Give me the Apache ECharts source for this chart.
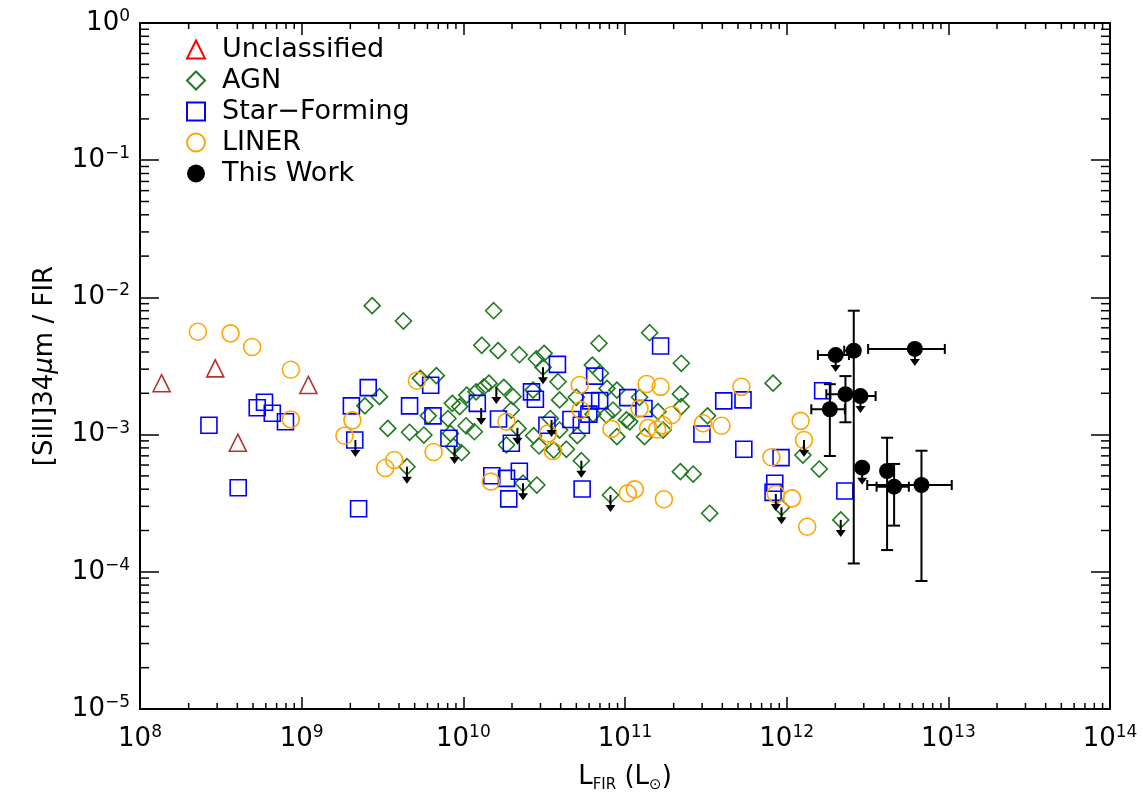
<!DOCTYPE html>
<html>
<head>
<meta charset="utf-8">
<title>[SiII]34um / FIR vs L_FIR</title>
<script src="https://cdn.jsdelivr.net/npm/echarts@6.0.0/dist/echarts.min.js"></script>
<style>
  html, body { margin: 0; padding: 0; background: #fff; }
  #chart { width: 1143px; height: 799px; }
</style>
</head>
<body>
<div id="chart"></div>
<script>
// points are [L_FIR (Lsun), [SiII]34um / FIR]
const unclassified = [
  [1.36e8, 2.37e-3], [2.92e8, 3.04e-3], [1.10e9, 2.30e-3], [4.03e8, 8.73e-4]
];

const agn = [
  [2.73e9, 8.71e-3], [4.26e9, 6.73e-3], [1.54e10, 8.00e-3], [1.30e10, 4.48e-3], [1.64e10, 4.09e-3], [2.22e10, 3.82e-3],
  [5.42e9, 2.57e-3], [6.81e9, 2.69e-3], [3.03e9, 1.89e-3], [2.46e9, 1.62e-3], [3.41e9, 1.11e-3], [4.65e9, 1.04e-3],
  [5.70e9, 9.93e-4], [6.07e9, 1.37e-3], [8.03e9, 1.31e-3], [8.55e9, 1.69e-3], [9.49e9, 1.60e-3], [1.05e10, 1.94e-3],
  [1.20e10, 2.05e-3], [1.34e10, 2.23e-3], [1.44e10, 2.37e-3], [1.78e10, 2.21e-3], [2.03e10, 1.89e-3], [1.98e10, 1.51e-3],
  [1.04e10, 1.16e-3], [1.17e10, 1.05e-3], [8.32e9, 1.02e-3], [8.71e9, 8.17e-4], [9.75e9, 7.38e-4], [2.18e10, 1.11e-3],
  [1.85e10, 8.40e-4], [4.48e9, 5.83e-4], [2.34e10, 4.42e-4], [2.83e10, 3.56e-3], [3.16e10, 3.91e-3], [3.11e10, 3.10e-3],
  [3.85e10, 2.43e-3], [2.70e10, 2.11e-3], [3.94e10, 1.79e-3], [5.00e10, 1.87e-3], [2.72e10, 9.82e-4], [2.94e10, 8.26e-4],
  [3.45e10, 1.31e-3], [3.94e10, 1.08e-3], [4.34e10, 7.82e-4], [3.62e10, 7.72e-4], [2.85e10, 4.29e-4], [5.07e10, 9.82e-4],
  [5.37e10, 6.45e-4], [1.42e11, 5.53e-3], [6.90e10, 4.63e-3], [2.23e11, 3.31e-3], [6.28e10, 3.21e-3], [7.05e10, 2.80e-3],
  [7.74e10, 2.17e-3], [8.91e10, 2.11e-3], [1.23e11, 1.87e-3], [2.20e11, 1.98e-3], [2.23e11, 1.60e-3], [1.60e11, 1.47e-3],
  [8.43e10, 1.51e-3], [7.67e10, 1.39e-3], [6.34e10, 1.41e-3], [1.02e11, 1.28e-3], [1.07e11, 1.24e-3], [1.72e11, 1.08e-3],
  [1.32e11, 9.66e-4], [8.91e10, 9.66e-4], [3.24e11, 1.37e-3], [2.20e11, 5.37e-4], [2.64e11, 5.16e-4], [8.13e10, 3.63e-4],
  [3.34e11, 2.67e-4], [8.24e11, 2.37e-3], [1.26e12, 7.10e-4], [1.59e12, 5.61e-4], [9.29e11, 2.95e-4], [2.16e12, 2.39e-4]
];

const starForming = [
  [2.67e8, 1.17e-3], [5.31e8, 1.57e-3], [5.89e8, 1.72e-3], [6.58e8, 1.43e-3], [7.94e8, 1.24e-3], [4.05e8, 4.10e-4],
  [2.03e9, 1.62e-3], [2.58e9, 2.20e-3], [2.13e9, 9.14e-4], [2.25e9, 2.88e-4], [4.65e9, 1.62e-3], [6.28e9, 2.29e-3],
  [6.49e9, 1.37e-3], [8.15e9, 9.40e-4], [1.22e10, 1.69e-3], [1.65e10, 1.30e-3], [1.98e10, 8.64e-4], [2.64e10, 2.05e-3],
  [2.79e10, 1.81e-3], [3.82e10, 3.25e-3], [3.29e10, 1.17e-3], [4.63e10, 1.29e-3], [1.50e10, 5.01e-4], [1.85e10, 4.80e-4],
  [2.22e10, 5.40e-4], [1.91e10, 3.40e-4], [5.43e10, 4.01e-4], [1.66e11, 4.42e-3], [6.49e10, 2.67e-3], [6.14e10, 1.76e-3],
  [6.97e10, 1.77e-3], [1.04e11, 1.86e-3], [1.31e11, 1.55e-3], [5.98e10, 1.41e-3], [5.37e10, 1.17e-3], [2.99e11, 1.01e-3],
  [4.08e11, 1.76e-3], [5.37e11, 1.79e-3], [5.43e11, 7.82e-4], [9.23e11, 6.79e-4], [8.44e11, 4.42e-4], [8.24e11, 3.79e-4],
  [1.67e12, 2.09e-3], [2.29e12, 3.88e-4]
];

const liner = [
  [2.28e8, 5.62e-3], [3.63e8, 5.47e-3], [4.94e8, 4.35e-3], [8.57e8, 2.97e-3], [8.57e8, 1.29e-3], [2.06e9, 1.27e-3],
  [1.84e9, 9.82e-4], [5.16e9, 2.47e-3], [3.29e9, 5.71e-4], [3.74e9, 6.53e-4], [6.55e9, 7.47e-4], [1.85e10, 1.24e-3],
  [1.48e10, 4.54e-4], [3.34e10, 1.02e-3], [3.58e10, 7.59e-4], [5.25e10, 2.30e-3], [1.36e11, 2.34e-3], [1.66e11, 2.23e-3],
  [5.25e11, 2.23e-3], [1.23e11, 1.55e-3], [5.32e10, 1.51e-3], [8.24e10, 1.10e-3], [1.39e11, 1.12e-3], [1.58e11, 1.09e-3],
  [1.72e11, 1.17e-3], [1.95e11, 1.39e-3], [3.04e11, 1.21e-3], [3.95e11, 1.16e-3], [1.04e11, 3.73e-4], [1.15e11, 3.99e-4],
  [1.74e11, 3.38e-4], [8.05e11, 6.84e-4], [8.57e11, 3.69e-4], [1.22e12, 1.26e-3], [1.28e12, 9.14e-4], [1.08e12, 3.43e-4],
  [1.34e12, 2.13e-4]
];

// this work, with error bars (null = no bar)
const thisWorkL     = [2.01e12, 2.60e12, 6.21e12, 2.31e12, 2.86e12, 1.85e12, 2.93e12, 4.18e12, 4.62e12, 6.82e12];
const thisWorkRatio = [3.80e-3, 4.09e-3, 4.21e-3, 1.97e-3, 1.91e-3, 1.53e-3, 5.74e-4, 5.43e-4, 4.17e-4, 4.29e-4];
const thisWorkLLo   = [1.56e12, 2.27e12, 3.19e12, 1.76e12, 2.35e12, 1.42e12, null, null, 3.60e12, 3.15e12];
const thisWorkLHi   = [2.43e12, 2.81e12, 9.51e12, 2.83e12, 3.55e12, 2.29e12, null, null, 5.70e12, 1.05e13];
const thisWorkRLo   = [null, 1.15e-4, null, 1.23e-3, null, 6.98e-4, null, 1.44e-4, 2.17e-4, 8.57e-5];
const thisWorkRHi   = [null, 8.00e-3, null, 2.67e-3, null, 2.33e-3, null, 9.49e-4, 6.11e-4, 7.63e-4];

// upper limits: a down arrow starts at each of these points
const upperLimits = [
  [2.15e9, 9.14e-4], [4.48e9, 5.83e-4], [8.83e9, 8.13e-4], [1.60e10, 2.22e-3], [1.29e10, 1.56e-3], [2.16e10, 1.12e-3],
  [3.11e10, 3.10e-3], [3.51e10, 1.28e-3], [2.34e10, 4.42e-4], [5.37e10, 6.45e-4], [8.13e10, 3.63e-4], [8.57e11, 3.69e-4],
  [1.28e12, 9.14e-4], [9.29e11, 2.95e-4], [2.16e12, 2.39e-4],
  [2.01e12, 3.80e-3], [6.21e12, 4.21e-3], [2.86e12, 1.91e-3], [2.93e12, 5.74e-4]
];

// axes
const xMin = 1e8, xMax = 1e14;
const yMin = 1e-5, yMax = 1;
const xDecades = [8, 9, 10, 11, 12, 13];
const yDecades = [-5, -4, -3, -2, -1];
const minorMantissas = [2, 3, 4, 5, 6, 7, 8, 9];
const xMinorTicks = xDecades.flatMap(d => minorMantissas.map(m => m * Math.pow(10, d)));
const yMinorTicks = yDecades.flatMap(d => minorMantissas.map(m => m * Math.pow(10, d)));

const font = 'DejaVu Sans';
const black = '#000';

const powLabel = v => {
  const e = Math.round(Math.log10(v));
  return '{b|10}{e|' + (e < 0 ? '\u2212' + (-e) : e) + '}';
};
const powRich = {
  b: { fontFamily: font, fontSize: 26, lineHeight: 30, color: black },
  e: { fontFamily: font, fontSize: 17, lineHeight: 17, verticalAlign: 'top', color: black }
};

function makeAxis(pos, isX, main) {
  return {
    type: 'log',
    position: pos,
    min: isX ? xMin : yMin,
    max: isX ? xMax : yMax,
    logBase: 10,
    splitLine: { show: false },
    axisLine: { show: true, lineStyle: { color: black, width: 2 } },
    axisTick: { show: true, inside: true, length: isX ? 12 : 19, lineStyle: { color: black, width: 1.5 } },
    axisLabel: main ? {
      show: true, margin: isX ? 15 : 10, formatter: powLabel, rich: powRich
    } : { show: false }
  };
}

const xAxes = [makeAxis('bottom', true, true), makeAxis('top', true, false)];
xAxes[0].name = '{l|L}{s|FIR}{l| (L}{s|\u2299}{l|)}';
xAxes[0].nameLocation = 'middle';
xAxes[0].nameGap = 52;
xAxes[0].nameTextStyle = {
  rich: {
    l: { fontFamily: font, fontSize: 26, lineHeight: 32, color: black },
    s: { fontFamily: font, fontSize: 15, lineHeight: 15, verticalAlign: 'bottom', color: black }
  }
};

const yAxes = [makeAxis('left', false, true), makeAxis('right', false, false)];
yAxes[0].name = '{t|[SiII]34}{mu|\u03bc}{t|m / FIR}';
yAxes[0].nameLocation = 'middle';
yAxes[0].nameRotate = 90;
yAxes[0].nameGap = 82;
yAxes[0].nameTextStyle = {
  rich: {
    t: { fontFamily: font, fontSize: 26, color: black },
    mu: { fontFamily: font, fontSize: 26, fontStyle: 'italic', color: black }
  }
};

function minorTickSeries(values, isX) {
  return {
    type: 'custom',
    silent: true,
    z: 1,
    data: values.map(v => (isX ? [v, 1e-3] : [1e10, v])),
    encode: { x: 0, y: 1 },
    renderItem: (params, api) => {
      const style = { stroke: black, lineWidth: 1.5 };
      if (isX) {
        const v = api.value(0);
        const b = api.coord([v, yMin]);
        const t = api.coord([v, yMax]);
        return {
          type: 'group',
          children: [
            { type: 'line', shape: { x1: b[0], y1: b[1], x2: b[0], y2: b[1] - 6 }, style },
            { type: 'line', shape: { x1: t[0], y1: t[1], x2: t[0], y2: t[1] + 6 }, style }
          ]
        };
      }
      const v = api.value(1);
      const l = api.coord([xMin, v]);
      const r = api.coord([xMax, v]);
      return {
        type: 'group',
        children: [
          { type: 'line', shape: { x1: l[0], y1: l[1], x2: l[0] + 9, y2: l[1] }, style },
          { type: 'line', shape: { x1: r[0], y1: r[1], x2: r[0] - 9, y2: r[1] }, style }
        ]
      };
    }
  };
}

function renderErrorBars(params, api) {
  const i = params.dataIndex;
  const c = api.coord([thisWorkL[i], thisWorkRatio[i]]);
  const style = { stroke: black, lineWidth: 2 };
  const children = [];
  if (thisWorkLLo[i] != null) {
    const a = api.coord([thisWorkLLo[i], thisWorkRatio[i]]);
    const b = api.coord([thisWorkLHi[i], thisWorkRatio[i]]);
    children.push({ type: 'line', shape: { x1: a[0], y1: c[1], x2: b[0], y2: c[1] }, style });
    children.push({ type: 'line', shape: { x1: a[0], y1: c[1] - 5, x2: a[0], y2: c[1] + 5 }, style });
    children.push({ type: 'line', shape: { x1: b[0], y1: c[1] - 5, x2: b[0], y2: c[1] + 5 }, style });
  }
  if (thisWorkRLo[i] != null) {
    const a = api.coord([thisWorkL[i], thisWorkRLo[i]]);
    const b = api.coord([thisWorkL[i], thisWorkRHi[i]]);
    children.push({ type: 'line', shape: { x1: c[0], y1: a[1], x2: c[0], y2: b[1] }, style });
    children.push({ type: 'line', shape: { x1: c[0] - 6, y1: a[1], x2: c[0] + 6, y2: a[1] }, style });
    children.push({ type: 'line', shape: { x1: c[0] - 6, y1: b[1], x2: c[0] + 6, y2: b[1] }, style });
  }
  return { type: 'group', children };
}

function renderArrow(params, api) {
  const c = api.coord([api.value(0), api.value(1)]);
  return {
    type: 'group',
    children: [
      { type: 'line', shape: { x1: c[0], y1: c[1], x2: c[0], y2: c[1] + 13 }, style: { stroke: black, lineWidth: 2 } },
      {
        type: 'polygon',
        shape: { points: [[c[0] - 5, c[1] + 10], [c[0] + 5, c[1] + 10], [c[0], c[1] + 17]] },
        style: { fill: black }
      }
    ]
  };
}

const openMarker = color => ({ color: 'transparent', borderColor: color, borderWidth: 1.6, opacity: 1 });

const chart = echarts.init(document.getElementById('chart'));
chart.setOption({
  animation: false,
  backgroundColor: '#fff',
  grid: { left: 140, right: 33, top: 23, bottom: 90, outerBoundsMode: 'none', containLabel: false },
  xAxis: xAxes,
  yAxis: yAxes,
  legend: {
    orient: 'vertical',
    left: 181,
    top: 31,
    itemGap: 4,
    itemWidth: 18,
    itemHeight: 18,
    selectedMode: false,
    textStyle: { fontFamily: font, fontSize: 27, lineHeight: 26, color: black, padding: [0, 0, 0, 12] },
    data: [
      { name: 'Unclassified', itemStyle: { borderColor: '#ff0000' } },
      'AGN', 'Star\u2212Forming', 'LINER', 'This Work'
    ]
  },
  series: [
    minorTickSeries(xMinorTicks, true),
    minorTickSeries(yMinorTicks, false),
    {
      name: 'Unclassified', type: 'scatter', data: unclassified, symbol: 'triangle', symbolSize: 17,
      itemStyle: openMarker('#b8302a'), z: 2
    },
    {
      name: 'AGN', type: 'scatter', data: agn, symbol: 'diamond', symbolSize: 16,
      itemStyle: openMarker('#1f7a1f'), z: 2
    },
    {
      name: 'Star\u2212Forming', type: 'scatter', data: starForming, symbol: 'rect', symbolSize: 16,
      itemStyle: openMarker('#0000ff'), z: 2
    },
    {
      name: 'LINER', type: 'scatter', data: liner, symbol: 'circle', symbolSize: 17,
      itemStyle: openMarker('#ffa500'), z: 2
    },
    {
      name: 'limits', type: 'custom', silent: true, z: 3,
      data: upperLimits, encode: { x: 0, y: 1 }, renderItem: renderArrow
    },
    {
      name: 'errors', type: 'custom', silent: true, z: 3,
      data: thisWorkL.map((l, i) => [l, thisWorkRatio[i]]), encode: { x: 0, y: 1 }, renderItem: renderErrorBars
    },
    {
      name: 'This Work', type: 'scatter', symbol: 'circle', symbolSize: 16, z: 4,
      data: thisWorkL.map((l, i) => [l, thisWorkRatio[i]]),
      itemStyle: { color: black, opacity: 1 }
    }
  ]
});
</script>
</body>
</html>
